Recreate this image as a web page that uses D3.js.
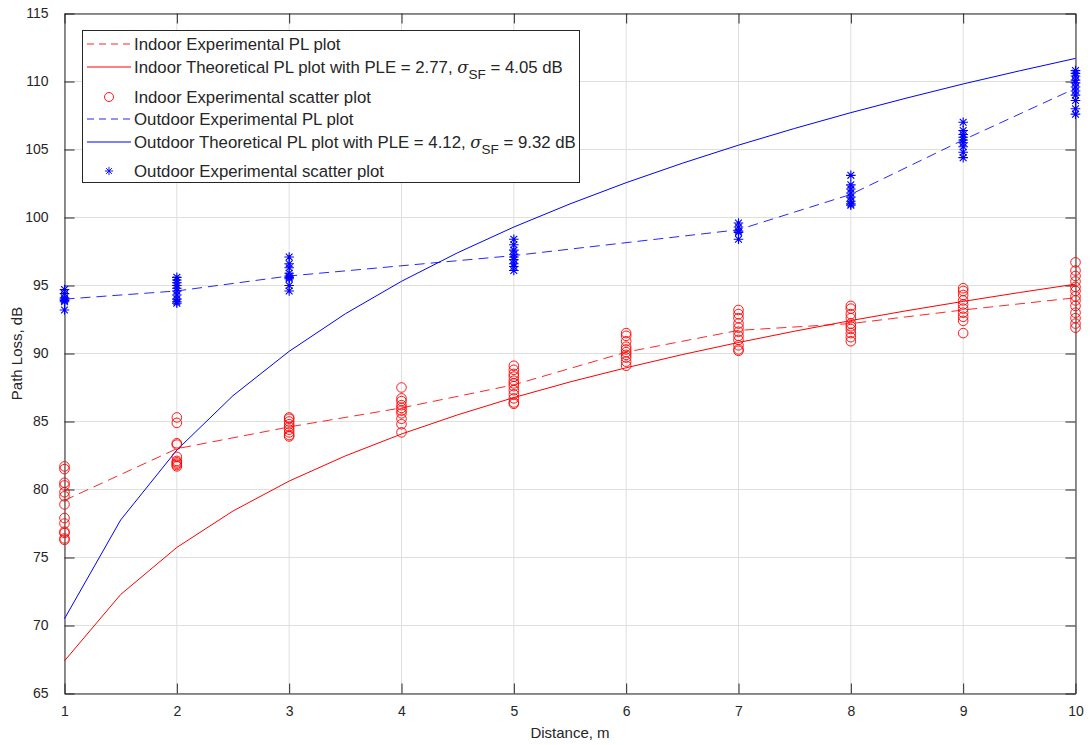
<!DOCTYPE html>
<html>
<head>
<meta charset="utf-8">
<script src="https://cdn.jsdelivr.net/npm/d3@7"></script>
<style>
  html, body { margin: 0; padding: 0; background: #fff; }
  svg { display: block; font-family: "Liberation Sans", Arial, Helvetica, sans-serif; }
</style>
</head>
<body>
<svg id="chart" width="1090" height="745"></svg>
<script>
// Measurement distances (m)
const distances = [1, 2, 3, 4, 5, 6, 7, 8, 9, 10];
const outdoorDistances = [1, 2, 3, 5, 7, 8, 9, 10];
const modelDistances = [1, 1.5, 2, 2.5, 3, 3.5, 4, 4.5, 5, 5.5, 6, 6.5, 7, 7.5, 8, 8.5, 9, 9.5, 10];

// Mean measured path loss (dB)
const indoorMean = [79.2, 83.0, 84.6, 86.0, 87.7, 90.1, 91.7, 92.2, 93.2, 94.1];
const outdoorMean = [94.0, 94.6, 95.7, 97.2, 99.1, 101.7, 105.7, 109.5];

// Log-distance model curves (dB)
const indoorModel = [67.40, 72.28, 75.74, 78.42, 80.62, 82.47, 84.08, 85.49, 86.76, 87.91,
                     88.95, 89.92, 90.81, 91.64, 92.42, 93.15, 93.83, 94.48, 95.10];
const outdoorModel = [70.50, 77.76, 82.90, 86.90, 90.16, 92.92, 95.31, 97.41, 99.30, 101.00,
                      102.56, 103.99, 105.32, 106.55, 107.71, 108.79, 109.82, 110.78, 111.70];

// Individual indoor samples per distance (dB)
const indoorSamples = [
  [81.7, 81.5, 80.5, 80.3, 79.8, 79.5, 78.9, 77.9, 77.5, 76.9, 76.8, 76.4, 76.3],
  [85.3, 84.9, 83.4, 83.3, 82.4, 82.1, 82.0, 81.9, 81.8, 81.7],
  [85.3, 85.2, 85.0, 84.8, 84.6, 84.4, 84.2, 84.0, 83.9],
  [87.5, 86.7, 86.5, 86.2, 86.0, 85.8, 85.6, 85.2, 84.8, 84.2],
  [89.1, 88.8, 88.5, 88.3, 88.0, 87.8, 87.6, 87.3, 87.0, 86.7, 86.4, 86.3],
  [91.5, 91.3, 90.9, 90.5, 90.3, 90.1, 89.9, 89.7, 89.4, 89.1],
  [93.2, 92.9, 92.6, 92.2, 91.9, 91.6, 91.3, 91.0, 90.6, 90.3, 90.2],
  [93.5, 93.3, 92.9, 92.6, 92.2, 92.0, 91.8, 91.5, 91.2, 90.9],
  [94.8, 94.6, 94.3, 93.9, 93.6, 93.3, 93.0, 92.7, 92.4, 91.5],
  [96.7, 96.1, 95.7, 95.3, 94.9, 94.6, 94.2, 93.9, 93.5, 93.0, 92.6, 92.2, 91.9]
];

// Individual outdoor samples per distance (dB)
const outdoorSamples = [
  [94.7, 94.4, 94.1, 94.0, 93.9, 93.8, 93.2],
  [95.6, 95.4, 95.2, 95.0, 94.8, 94.6, 94.3, 94.0, 93.8, 93.7],
  [97.1, 96.6, 96.3, 95.9, 95.7, 95.6, 95.5, 95.0, 94.6],
  [98.4, 98.0, 97.6, 97.3, 97.1, 96.9, 96.6, 96.4, 96.1],
  [99.6, 99.3, 99.0, 98.9, 98.4],
  [103.1, 102.4, 102.1, 101.8, 101.5, 101.2, 101.0, 100.9],
  [107.0, 106.4, 106.1, 105.9, 105.7, 105.5, 105.2, 104.8, 104.4],
  [110.8, 110.6, 110.4, 110.1, 109.9, 109.6, 109.3, 109.0, 108.6, 108.0, 107.6]
];

const xTicks = [1, 2, 3, 4, 5, 6, 7, 8, 9, 10];
const yTicks = [65, 70, 75, 80, 85, 90, 95, 100, 105, 110, 115];

const RED = "#ff0000", BLUE = "#0000ff", AXIS = "#262626", GRID = "#dfdfdf";

const svg = d3.select("#chart");
const m = { left: 64.5, top: 13.5, right: 1075.5, bottom: 693.5 };

const x = d3.scaleLinear().domain([1, 10]).range([m.left, m.right]);
const y = d3.scaleLinear().domain([65, 115]).range([m.bottom, m.top]);

// Grid
const grid = svg.append("g");
grid.selectAll("line.gx").data(xTicks).join("line")
  .attr("x1", d => x(d)).attr("x2", d => x(d))
  .attr("y1", m.top).attr("y2", m.bottom)
  .attr("stroke", GRID).attr("stroke-width", 1);
grid.selectAll("line.gy").data(yTicks).join("line")
  .attr("y1", d => y(d)).attr("y2", d => y(d))
  .attr("x1", m.left).attr("x2", m.right)
  .attr("stroke", GRID).attr("stroke-width", 1);

// Axes with inward ticks on all four sides
const tickLen = 10;
function styleAxis(g) {
  g.selectAll("path.domain").attr("stroke", AXIS).attr("stroke-width", 1);
  g.selectAll(".tick line").attr("stroke", AXIS);
  g.selectAll("text").attr("fill", AXIS).attr("font-size", 14)
    .attr("font-family", "'Liberation Sans', Arial, sans-serif");
}
svg.append("g").attr("transform", `translate(0,${m.bottom})`)
  .call(d3.axisBottom(x).tickValues(xTicks).tickFormat(d3.format("d"))
    .tickSizeInner(-tickLen).tickSizeOuter(0).tickPadding(13))
  .call(styleAxis);
svg.append("g").attr("transform", `translate(0,${m.top})`)
  .call(d3.axisTop(x).tickValues(xTicks).tickFormat("")
    .tickSizeInner(-tickLen).tickSizeOuter(0))
  .call(styleAxis);
svg.append("g").attr("transform", `translate(${m.left},0)`)
  .call(d3.axisLeft(y).tickValues(yTicks).tickFormat(d3.format("d"))
    .tickSizeInner(-tickLen).tickSizeOuter(0).tickPadding(16))
  .call(styleAxis);
svg.append("g").attr("transform", `translate(${m.right},0)`)
  .call(d3.axisRight(y).tickValues(yTicks).tickFormat("")
    .tickSizeInner(-tickLen).tickSizeOuter(0))
  .call(styleAxis);

// Axis titles
svg.append("text").attr("x", (m.left + m.right) / 2).attr("y", 738)
  .attr("text-anchor", "middle").attr("font-size", 15).attr("fill", AXIS)
  .text("Distance, m");
svg.append("text")
  .attr("transform", `translate(22,${(m.top + m.bottom) / 2}) rotate(-90)`)
  .attr("text-anchor", "middle").attr("font-size", 15).attr("fill", AXIS)
  .text("Path Loss, dB");

const plot = svg.append("g");
const line = d3.line().x(d => x(d[0])).y(d => y(d[1]));

// Model curves
plot.append("path").datum(d3.zip(modelDistances, indoorModel)).attr("d", line)
  .attr("fill", "none").attr("stroke", RED).attr("stroke-width", 1);
plot.append("path").datum(d3.zip(modelDistances, outdoorModel)).attr("d", line)
  .attr("fill", "none").attr("stroke", BLUE).attr("stroke-width", 1);

// Measured mean curves
plot.append("path").datum(d3.zip(distances, indoorMean)).attr("d", line)
  .attr("fill", "none").attr("stroke", RED).attr("stroke-width", 1)
  .attr("stroke-dasharray", "10,6").attr("opacity", 0.85);
plot.append("path").datum(d3.zip(outdoorDistances, outdoorMean)).attr("d", line)
  .attr("fill", "none").attr("stroke", BLUE).attr("stroke-width", 1)
  .attr("stroke-dasharray", "10,6").attr("opacity", 0.85);

// Indoor samples (circles)
const indoorPts = distances.flatMap((d, i) => indoorSamples[i].map(v => [d, v]));
plot.append("g").selectAll("circle").data(indoorPts).join("circle")
  .attr("cx", d => x(d[0])).attr("cy", d => y(d[1])).attr("r", 4.8)
  .attr("fill", "none").attr("stroke", RED).attr("stroke-width", 0.9);

// Outdoor samples (asterisks)
const star = "M-4.8,0H4.8M0,-4.8V4.8M-3.4,-3.4L3.4,3.4M-3.4,3.4L3.4,-3.4";
const outdoorPts = outdoorDistances.flatMap((d, i) => outdoorSamples[i].map(v => [d, v]));
plot.append("g").selectAll("path").data(outdoorPts).join("path")
  .attr("transform", d => `translate(${x(d[0])},${y(d[1])})`)
  .attr("d", star).attr("fill", "none").attr("stroke", BLUE).attr("stroke-width", 1.1);

// Legend
const lg = svg.append("g");
lg.append("rect").attr("x", 82.5).attr("y", 30.5).attr("width", 497).attr("height", 152)
  .attr("fill", "#fff").attr("stroke", AXIS).attr("stroke-width", 1);

const legendItems = [
  { kind: "dash", color: RED, y: 44, label: "Indoor Experimental PL plot" },
  { kind: "solid", color: RED, y: 67, label: "Indoor Theoretical PL plot with PLE = 2.77, ", sigma: " = 4.05 dB" },
  { kind: "circle", color: RED, y: 97, label: "Indoor Experimental scatter plot" },
  { kind: "dash", color: BLUE, y: 119, label: "Outdoor Experimental PL plot" },
  { kind: "solid", color: BLUE, y: 142, label: "Outdoor Theoretical PL plot with PLE = 4.12, ", sigma: " = 9.32 dB" },
  { kind: "star", color: BLUE, y: 171, label: "Outdoor Experimental scatter plot" }
];

legendItems.forEach(it => {
  if (it.kind === "dash" || it.kind === "solid") {
    lg.append("line").attr("x1", 87).attr("x2", 131).attr("y1", it.y).attr("y2", it.y)
      .attr("stroke", it.color).attr("stroke-width", 1)
      .attr("stroke-dasharray", it.kind === "dash" ? "7,5" : null)
      .attr("opacity", it.kind === "dash" ? 0.85 : 1);
  } else if (it.kind === "circle") {
    lg.append("circle").attr("cx", 109).attr("cy", it.y).attr("r", 4.5)
      .attr("fill", "none").attr("stroke", it.color).attr("stroke-width", 0.9);
  } else {
    lg.append("path").attr("transform", `translate(109,${it.y}) scale(0.85)`).attr("d", star)
      .attr("fill", "none").attr("stroke", it.color).attr("stroke-width", 1.1);
  }
  const t = lg.append("text").attr("x", 134).attr("y", it.y + 6)
    .attr("font-size", 16.8).attr("fill", AXIS);
  t.append("tspan").text(it.label);
  if (it.sigma) {
    t.append("tspan").attr("font-style", "italic").attr("font-family", "'DejaVu Serif', serif")
      .attr("font-size", 16.5).text("σ");
    t.append("tspan").attr("font-size", 13.5).attr("dy", 6).text("SF");
    t.append("tspan").attr("dy", -6).text(it.sigma);
  }
});
</script>
</body>
</html>
